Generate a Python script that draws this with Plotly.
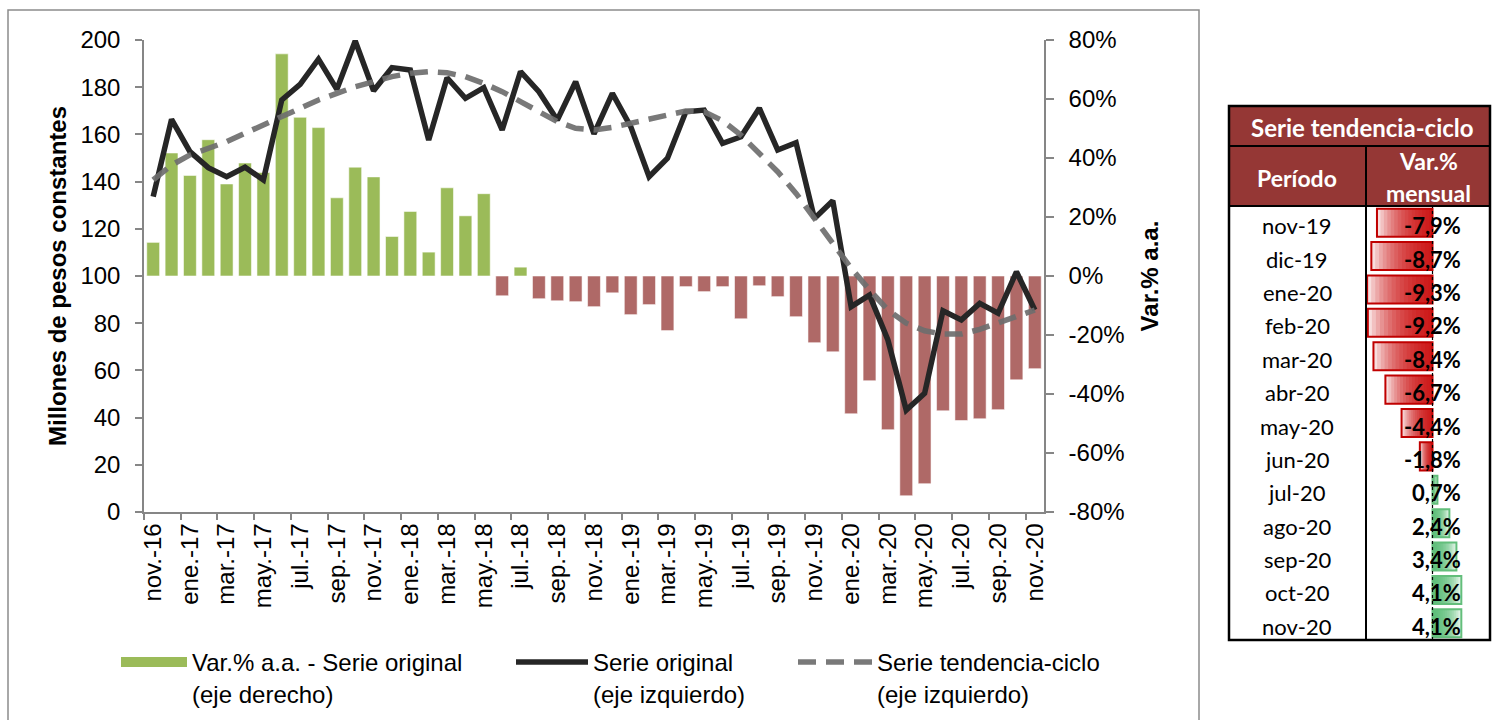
import plotly.graph_objects as go

# ---------------- data ----------------
categories = ["nov.-16", "dic.-16", "ene.-17", "feb.-17", "mar.-17", "abr.-17", "may.-17", "jun.-17",
              "jul.-17", "ago.-17", "sep.-17", "oct.-17", "nov.-17", "dic.-17", "ene.-18", "feb.-18",
              "mar.-18", "abr.-18", "may.-18", "jun.-18", "jul.-18", "ago.-18", "sep.-18", "oct.-18",
              "nov.-18", "dic.-18", "ene.-19", "feb.-19", "mar.-19", "abr.-19", "may.-19", "jun.-19",
              "jul.-19", "ago.-19", "sep.-19", "oct.-19", "nov.-19", "dic.-19", "ene.-20", "feb.-20",
              "mar.-20", "abr.-20", "may.-20", "jun.-20", "jul.-20", "ago.-20", "sep.-20", "oct.-20",
              "nov.-20"]

var_aa = [11.4, 41.7, 34.1, 46.2, 31.2, 38.3, 35.1, 75.3, 53.8, 50.3, 26.5, 36.9, 33.6, 13.4, 21.9,
          8.1, 29.9, 20.4, 27.9, -6.7, 3.0, -7.7, -8.4, -8.7, -10.4, -5.7, -13.1, -9.7, -18.5, -3.6,
          -5.3, -3.6, -14.5, -3.3, -7.0, -13.8, -22.6, -25.7, -46.7, -35.5, -52.1, -74.5, -70.4,
          -45.7, -49.0, -48.4, -45.3, -35.2, -31.4]

serie_original = [133.6, 166.4, 152.7, 145.9, 142.1, 146.1, 140.7, 174.6, 181.2, 191.9, 179.1, 199.6,
                  178.5, 188.3, 187.3, 157.6, 184.0, 175.3, 179.8, 161.9, 186.6, 178.1, 166.1, 182.3,
                  160.2, 177.4, 163.3, 142.1, 149.9, 169.6, 170.3, 156.2, 159.0, 171.1, 153.4, 156.5,
                  124.4, 131.9, 87.0, 91.9, 72.9, 43.2, 50.3, 85.3, 81.4, 88.4, 84.2, 101.8, 85.6]

serie_tendencia = [140.7, 147.0, 151.3, 154.1, 156.9, 160.5, 164.0, 167.5, 171.1, 174.6, 177.4, 180.2,
                   182.3, 184.5, 185.9, 186.6, 186.1, 184.5, 181.6, 178.1, 173.9, 169.6, 165.4, 162.6,
                   161.9, 163.0, 164.7, 166.8, 168.6, 169.9, 169.6, 165.8, 159.7, 152.0, 144.2, 135.0,
                   124.4, 113.0, 103.3, 94.1, 85.6, 80.0, 76.8, 75.4, 75.4, 77.4, 80.0, 82.5, 85.6]

left_ticks = [0, 20, 40, 60, 80, 100, 120, 140, 160, 180, 200]
right_ticks = [-80, -60, -40, -20, 0, 20, 40, 60, 80]
right_ticktext = ["-80%", "-60%", "-40%", "-20%", "0%", "20%", "40%", "60%", "80%"]

table_periods = ["nov-19", "dic-19", "ene-20", "feb-20", "mar-20", "abr-20", "may-20", "jun-20",
                 "jul-20", "ago-20", "sep-20", "oct-20", "nov-20"]
table_var_mensual = [-7.9, -8.7, -9.3, -9.2, -8.4, -6.7, -4.4, -1.8, 0.7, 2.4, 3.4, 4.1, 4.1]

# ---------------- styling ----------------
W, H = 1495, 720
ML, MR, MT, MB = 5, 5, 5, 5


def PX(px):
    return (px - ML) / (W - ML - MR)


def PY(py):
    return (H - MB - py) / (H - MT - MB)


GREEN = "#9BBB59"
RED = "#AF6967"
AXIS = "#868686"
FONT = "Liberation Sans, Arial, sans-serif"
TFONT = "Lato, Open Sans, sans-serif"
HEAD = "#953735"

fig = go.Figure()

# bars (right axis, y)
fig.add_trace(go.Bar(
    x=categories, y=var_aa, xaxis="x", yaxis="y", width=0.7,
    marker=dict(color=[GREEN if v >= 0 else RED for v in var_aa],
                line=dict(color="rgba(255,255,255,0.55)", width=1)),
    showlegend=False, name="Var.% a.a. - Serie original (eje derecho)"))

# lines (left axis, y2)
fig.add_trace(go.Scatter(
    x=categories, y=serie_original, xaxis="x", yaxis="y2", mode="lines",
    line=dict(color="#262626", width=5.5),
    name="Serie original<br>(eje izquierdo)", legend="legend2"))
fig.add_trace(go.Scatter(
    x=categories, y=serie_tendencia, xaxis="x", yaxis="y2", mode="lines",
    line=dict(color="rgba(110,110,110,0.92)", width=5.5, dash="18px,10px"),
    name="Serie tendencia-ciclo<br>(eje izquierdo)", legend="legend3"))

# legend proxy for the bars (wide green swatch)
fig.add_trace(go.Scatter(
    x=[None], y=[None], xaxis="x", yaxis="y", mode="lines",
    line=dict(color=GREEN, width=12),
    name="Var.% a.a. - Serie original<br>(eje derecho)", legend="legend"))

# ---------------- table data bars ----------------
N = 16
for k in range(1, N + 1):
    fig.add_trace(go.Bar(
        x=[v * k / N for v in table_var_mensual], y=table_periods, orientation="h",
        xaxis="x3", yaxis="y3", width=0.84, showlegend=False, hoverinfo="skip",
        marker=dict(color=["rgba(200,0,0,0.13)" if v < 0 else "rgba(80,185,110,0.13)"
                           for v in table_var_mensual], line=dict(width=0))))
fig.add_trace(go.Bar(
    x=table_var_mensual, y=table_periods, orientation="h", xaxis="x3", yaxis="y3",
    width=0.84, showlegend=False, hoverinfo="skip",
    marker=dict(color="rgba(0,0,0,0)",
                line=dict(color=["#C00000" if v < 0 else "#63BE7B" for v in table_var_mensual],
                          width=2))))

fig.update_layout(
    width=W, height=H, margin=dict(l=ML, r=MR, t=MT, b=MB, autoexpand=False),
    paper_bgcolor="white", plot_bgcolor="rgba(0,0,0,0)",
    barmode="overlay",
    font=dict(family=FONT, size=24, color="black"),
    xaxis=dict(domain=[PX(144), PX(1044)], type="category", categoryorder="array",
               categoryarray=categories, tickmode="linear", tick0=0, dtick=2,
               tickson="boundaries", tickangle=-90, ticks="outside", ticklen=6,
               tickcolor=AXIS, tickwidth=1.5, showline=True, linecolor=AXIS, linewidth=1.5,
               showgrid=False, zeroline=False, anchor="y", automargin=False,
               range=[-0.5, len(categories) - 0.5], tickfont=dict(size=24)),
    yaxis=dict(domain=[PY(512), PY(40)], range=[-80, 80], side="right", anchor="x",
               tickmode="array", tickvals=right_ticks, ticktext=right_ticktext,
               ticks="outside", ticklen=8, tickcolor=AXIS, tickwidth=1.5,
               showline=True, linecolor=AXIS, linewidth=1.5, showgrid=False, zeroline=False,
               ticklabelstandoff=10, automargin=False,
               title=dict(text="<b>Var.% a.a.</b>", standoff=18, font=dict(size=24))),
    yaxis2=dict(range=[0, 200], overlaying="y", side="left", anchor="x",
                tickmode="array", tickvals=left_ticks,
                ticks="outside", ticklen=7, tickcolor=AXIS, tickwidth=1.5,
                showline=True, linecolor=AXIS, linewidth=1.5, showgrid=False, zeroline=False,
                ticklabelstandoff=10, automargin=False,
                title=dict(text="<b>Millones de pesos constantes</b>", standoff=7,
                           font=dict(size=24))),
    xaxis3=dict(domain=[PX(1366), PX(1490)], range=[-9.46, 8.18], anchor="y3", visible=False,
                fixedrange=True),
    yaxis3=dict(domain=[PY(640), PY(206)], type="category", categoryorder="array",
                categoryarray=table_periods, range=[len(table_periods) - 0.5, -0.5],
                anchor="x3", visible=False, fixedrange=True),
    legend=dict(x=PX(116), y=PY(640), xanchor="left", yanchor="top", orientation="h",
                valign="top", itemwidth=66, bgcolor="rgba(0,0,0,0)",
                font=dict(family=FONT, size=24)),
    legend2=dict(x=PX(511), y=PY(640), xanchor="left", yanchor="top", orientation="h",
                 valign="top", itemwidth=72, bgcolor="rgba(0,0,0,0)",
                 font=dict(family=FONT, size=24)),
    legend3=dict(x=PX(793), y=PY(640), xanchor="left", yanchor="top", orientation="h",
                 valign="top", itemwidth=74, bgcolor="rgba(0,0,0,0)",
                 font=dict(family=FONT, size=24)),
)

shapes = []
# outer chart border
shapes.append(dict(type="rect", xref="paper", yref="paper", x0=PX(8), x1=PX(1199), y0=PY(726),
                   y1=PY(10), line=dict(color="#8C8C8C", width=1.5), fillcolor="rgba(0,0,0,0)",
                   layer="below"))
# table header fills
shapes.append(dict(type="rect", xref="paper", yref="paper", x0=PX(1229), x1=PX(1490), y0=PY(206),
                   y1=PY(106), line=dict(width=0), fillcolor=HEAD, layer="below"))
# table lines
for y0 in (146, 206):
    shapes.append(dict(type="line", xref="paper", yref="paper", x0=PX(1229), x1=PX(1490),
                       y0=PY(y0), y1=PY(y0), line=dict(color="black", width=2)))
shapes.append(dict(type="line", xref="paper", yref="paper", x0=PX(1366), x1=PX(1366),
                   y0=PY(146), y1=PY(640), line=dict(color="black", width=2)))
shapes.append(dict(type="rect", xref="paper", yref="paper", x0=PX(1229), x1=PX(1490), y0=PY(640),
                   y1=PY(106), line=dict(color="black", width=2.5), fillcolor="rgba(0,0,0,0)"))
# data-bar axis (dashed)
shapes.append(dict(type="line", xref="x3", yref="paper", x0=0, x1=0, y0=PY(640), y1=PY(206),
                   line=dict(color="black", width=1.2, dash="dot")))

annotations = []
annotations.append(dict(text="<b>Serie tendencia-ciclo</b>", x=PX(1362), y=PY(127), xref="paper",
                        yref="paper", showarrow=False, xanchor="center", yanchor="middle",
                        font=dict(family=TFONT, size=24, color="white")))
annotations.append(dict(text="<b>Período</b>", x=PX(1297), y=PY(178), xref="paper", yref="paper",
                        showarrow=False, xanchor="center", yanchor="middle",
                        font=dict(family=TFONT, size=23, color="white")))
annotations.append(dict(text="<b>Var.%</b>", x=PX(1428), y=PY(161), xref="paper", yref="paper",
                        showarrow=False, xanchor="center", yanchor="middle",
                        font=dict(family=TFONT, size=23, color="white")))
annotations.append(dict(text="<b>mensual</b>", x=PX(1428), y=PY(193), xref="paper", yref="paper",
                        showarrow=False, xanchor="center", yanchor="middle",
                        font=dict(family=TFONT, size=23, color="white")))
row_h = (640 - 206) / len(table_periods)
for i, (p, v) in enumerate(zip(table_periods, table_var_mensual)):
    yc = 206 + row_h * (i + 0.5) + 3
    annotations.append(dict(text=p, x=PX(1297), y=PY(yc), xref="paper", yref="paper",
                            showarrow=False, xanchor="center", yanchor="middle",
                            font=dict(family=TFONT, size=22, color="black")))
    annotations.append(dict(text="<b>" + f"{v:.1f}".replace(".", ",") + "%</b>", x=PX(1463),
                            y=PY(yc), xref="paper", yref="paper", showarrow=False,
                            xanchor="right", yanchor="middle",
                            font=dict(family=TFONT, size=22, color="black")))

fig.update_layout(shapes=shapes, annotations=annotations)

fig.write_html("out.html", config={"displayModeBar": False},
               post_script="document.body.style.margin='0px';"
                           "document.body.style.overflow='hidden';")
